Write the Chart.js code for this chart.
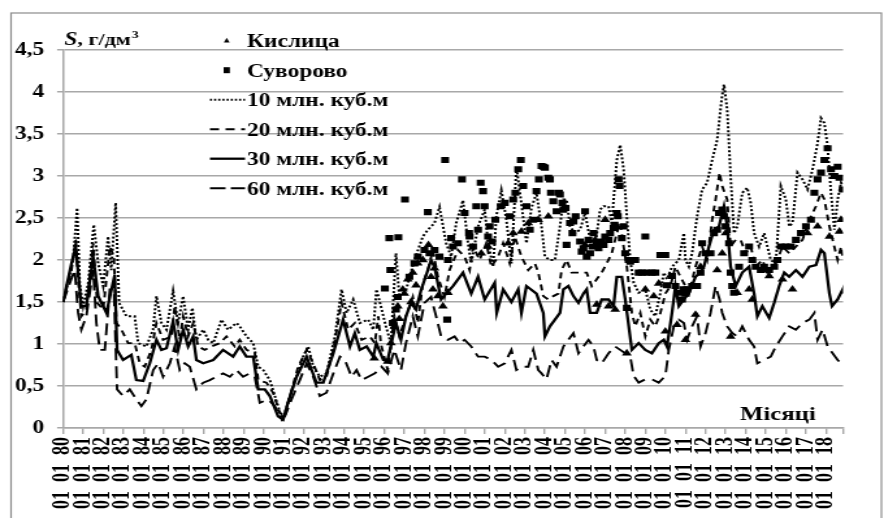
<!DOCTYPE html>
<html>
<head>
<meta charset="utf-8">
<script src="https://cdn.jsdelivr.net/npm/chart.js@4.4.0/dist/chart.umd.min.js"></script>
<style>
  html, body { margin: 0; padding: 0; background: #fff; overflow: hidden; }
  canvas { display: block; }
</style>
</head>
<body>
<!-- the original picture is stretched sideways, so the canvas is drawn narrow and widened by CSS -->
<canvas id="grafica" width="680" height="518" style="width:884px;height:518px"></canvas>
<script>
// series names (legend order)
const seriesNames = ['Кислица', 'Суворово', '10 млн. куб.м', '20 млн. куб.м', '30 млн. куб.м', '60 млн. куб.м'];

// x axis: one tick per year
const years = [1980,1981,1982,1983,1984,1985,1986,1987,1988,1989,1990,1991,1992,1993,1994,1995,1996,1997,1998,1999,
  2000,2001,2002,2003,2004,2005,2006,2007,2008,2009,2010,2011,2012,2013,2014,2015,2016,2017,2018];
const tickLabels = ['01 01 80','01 01 81','01 01 82','01 01 83','01 01 84','01 01 85','01 01 86','01 01 87','01 01 88','01 01 89',
  '01 01 90','01 01 91','01 01 92','01 01 93','01 01 94','01 01 95','01 01 96','01 01 97','01 01 98','01 01 99',
  '01 01 00','01 01 01','01 01 02','01 01 03','01 01 04','01 01 05','01 01 06','01 01 07','01 01 08','01 01 09',
  '01 01 10','01 01 11','01 01 12','01 01 13','01 01 14','01 01 15','01 01 16','01 01 17','01 01 18'];
const xEnd = 2018.85;

// measured points: Кислица (triangles)
const kyslytsia = [[1995.5,0.83],[1996.17,0.79],[1996.33,1.01],[1996.5,1.21],[1996.67,1.45],[1996.75,1.3],[1996.92,1.65],
  [1997.0,1.6],[1997.17,1.77],[1997.33,1.5],[1997.42,1.85],[1997.58,1.7],[1997.67,1.96],[1997.92,2.0],[1998.2,2.18],
  [1998.33,1.8],[1998.42,1.65],[1998.5,1.9],[1998.67,1.57],[1998.92,1.45],[1999.17,1.61],[2000.83,2.08],[2001.17,2.16],
  [2002.17,2.2],[2002.42,2.32],[2002.83,2.34],[2003.17,2.44],[2003.67,2.48],[2004.17,2.52],[2006.0,2.18],[2006.5,2.24],
  [2006.58,1.47],[2007.0,2.48],[2007.17,1.45],[2007.5,1.41],[2007.58,2.4],[2008.08,0.89],[2009.0,1.65],[2009.42,1.57],
  [2009.67,1.72],[2010.0,1.15],[2010.58,1.23],[2011.0,1.05],[2011.5,1.35],[2011.75,1.92],[2012.58,1.88],[2012.83,2.08],
  [2013.0,2.32],[2013.25,1.09],[2013.58,1.61],[2014.17,1.65],[2014.33,1.53],[2014.92,1.88],[2015.17,1.81],[2015.83,1.77],
  [2016.33,1.65],[2017.08,2.32],[2017.58,2.4],[2018.17,2.28],[2018.67,2.34],[2018.75,2.48]];

// measured points: Суворово (squares)
const suvorovo = [[1996.03,1.66],[1996.25,2.26],[1996.3,1.88],[1996.42,1.25],[1996.58,1.41],[1996.67,1.56],[1996.7,2.27],
  [1997.03,2.72],[1997.25,1.8],[1997.5,1.96],[1997.67,2.04],[1998.0,2.12],[1998.17,2.57],[1998.25,2.08],[1998.5,2.12],
  [1998.75,2.04],[1999.03,3.19],[1999.13,1.29],[1999.17,2.0],[1999.33,2.26],[1999.42,2.16],[1999.67,2.2],[1999.87,2.96],
  [2000.0,2.56],[2000.22,2.32],[2000.25,2.28],[2000.42,2.16],[2000.58,2.64],[2000.67,2.36],[2000.8,2.92],[2000.92,2.82],
  [2001.0,2.64],[2001.17,2.28],[2001.25,2.4],[2001.37,2.22],[2001.53,2.48],[2001.8,2.64],[2002.0,2.68],[2002.25,2.52],
  [2002.42,2.72],[2002.53,2.8],[2002.67,3.08],[2002.8,3.19],[2002.92,2.88],[2003.08,2.64],[2003.25,2.36],[2003.42,2.48],
  [2003.58,2.82],[2003.7,2.96],[2003.83,3.12],[2003.92,3.11],[2004.0,3.1],[2004.17,2.98],[2004.25,2.96],[2004.3,2.8],
  [2004.42,2.7],[2004.58,2.58],[2004.7,2.8],[2004.75,2.78],[2004.87,2.68],[2004.92,2.6],[2005.03,2.62],[2005.08,2.18],
  [2005.25,2.44],[2005.37,2.32],[2005.42,2.46],[2005.53,2.52],[2005.75,2.22],[2005.83,2.1],[2005.92,2.14],[2006.0,2.58],
  [2006.08,2.04],[2006.17,2.24],[2006.25,2.08],[2006.37,2.16],[2006.42,2.32],[2006.58,2.2],[2006.67,2.14],[2006.8,2.22],
  [2006.92,2.18],[2007.0,2.28],[2007.17,2.24],[2007.25,2.32],[2007.42,2.38],[2007.47,2.42],[2007.58,2.56],[2007.63,2.52],
  [2007.67,2.96],[2007.72,2.88],[2007.83,2.26],[2007.92,2.4],[2008.0,2.08],[2008.08,1.43],[2008.17,2.0],[2008.25,1.98],
  [2008.5,2.0],[2008.67,1.85],[2008.83,1.85],[2009.0,2.28],[2009.08,1.85],[2009.33,1.85],[2009.5,1.85],[2009.75,2.06],
  [2010.0,2.06],[2010.08,1.7],[2010.33,1.81],[2010.5,1.69],[2010.67,1.61],[2010.83,1.53],[2010.9,1.65],[2011.0,1.6],
  [2011.08,1.65],[2011.33,1.69],[2011.58,1.69],[2011.75,1.85],[2011.83,2.2],[2012.0,2.08],[2012.25,2.08],[2012.42,2.32],
  [2012.58,2.36],[2012.67,2.56],[2012.83,2.6],[2012.92,2.52],[2013.0,2.4],[2013.17,2.2],[2013.25,1.85],[2013.33,1.69],
  [2013.42,1.61],[2013.67,1.92],[2013.92,2.08],[2014.17,2.16],[2014.33,2.0],[2014.5,1.92],[2014.75,1.88],[2014.92,1.92],
  [2015.17,1.88],[2015.42,1.92],[2015.58,2.0],[2015.75,2.16],[2016.0,2.16],[2016.25,2.16],[2016.5,2.24],[2016.75,2.32],
  [2017.0,2.4],[2017.25,2.48],[2017.42,2.8],[2017.58,2.96],[2017.75,3.04],[2017.92,3.19],[2018.08,3.33],[2018.25,3.08],
  [2018.42,3.0],[2018.58,3.11],[2018.67,2.98],[2018.83,2.84]];

// modelled series, [year, g/dm3]
const line10 = [[1980.0,1.5],[1980.5,2.0],[1980.7,2.62],[1980.83,1.72],[1981.0,1.45],[1981.25,1.72],[1981.53,2.42],[1981.75,1.96],
  [1982.0,1.69],[1982.24,2.28],[1982.4,1.88],[1982.62,2.68],[1982.79,1.49],[1983.16,1.33],[1983.57,1.33],[1983.74,1.01],
  [1984.15,0.97],[1984.48,1.17],[1984.65,1.57],[1984.9,1.25],[1985.15,1.17],[1985.48,1.63],[1985.73,1.25],[1985.98,1.57],
  [1986.23,1.17],[1986.44,1.43],[1986.64,1.05],[1986.98,1.17],[1987.23,1.05],[1987.48,1.01],[1987.89,1.29],[1988.22,1.17],
  [1988.64,1.25],[1988.8,1.21],[1989.14,1.09],[1989.47,1.01],[1989.72,0.73],[1989.97,0.69],[1990.3,0.57],[1990.71,0.26],
  [1990.93,0.08],[1991.2,0.3],[1991.46,0.5],[1991.96,0.85],[1992.21,0.97],[1992.46,0.73],[1992.79,0.61],[1993.12,0.65],
  [1993.54,1.09],[1993.87,1.65],[1994.12,1.37],[1994.45,1.53],[1994.78,1.25],[1995.2,1.29],[1995.45,1.17],[1995.61,1.65],
  [1995.83,1.45],[1996.08,1.21],[1996.33,1.01],[1996.58,2.08],[1996.75,1.56],[1997.08,1.64],[1997.5,2.0],[1997.92,2.28],
  [1998.17,2.36],[1998.5,2.44],[1998.75,2.63],[1999.08,2.2],[1999.33,2.04],[1999.58,2.44],[1999.92,2.71],[2000.17,2.2],
  [2000.33,1.96],[2000.67,2.4],[2001.0,2.6],[2001.17,2.2],[2001.42,1.92],[2001.58,2.52],[2001.83,2.83],[2002.08,2.48],
  [2002.33,1.96],[2002.58,3.11],[2002.83,2.67],[2003.08,2.2],[2003.33,2.62],[2003.58,2.8],[2003.83,2.4],[2004.0,2.04],
  [2004.25,2.0],[2004.5,2.0],[2004.75,2.4],[2004.92,2.72],[2005.08,2.72],[2005.25,2.4],[2005.5,2.32],[2005.75,2.36],
  [2006.0,2.56],[2006.25,2.24],[2006.5,2.16],[2006.75,2.6],[2006.92,2.64],[2007.17,2.64],[2007.33,2.44],[2007.58,3.19],
  [2007.75,3.37],[2007.92,3.08],[2008.08,2.52],[2008.25,2.0],[2008.42,1.73],[2008.67,1.61],[2009.0,1.65],[2009.25,1.41],
  [2009.5,1.33],[2009.75,1.61],[2009.92,1.85],[2010.08,1.77],[2010.33,1.92],[2010.67,2.0],[2010.92,2.32],[2011.0,2.0],
  [2011.17,1.92],[2011.33,2.08],[2011.58,2.52],[2011.83,2.84],[2012.08,2.92],[2012.33,3.19],[2012.58,3.43],[2012.8,3.91],
  [2012.92,4.09],[2013.08,3.79],[2013.25,3.0],[2013.42,2.32],[2013.58,2.4],[2013.83,2.8],[2014.08,2.86],[2014.25,2.68],
  [2014.42,2.32],[2014.67,2.16],[2014.92,2.32],[2015.08,2.16],[2015.25,2.0],[2015.5,1.96],[2015.75,2.88],[2016.0,2.72],
  [2016.17,2.4],[2016.33,2.44],[2016.58,3.04],[2016.83,2.96],[2017.08,2.84],[2017.33,3.08],[2017.58,3.39],[2017.75,3.69],
  [2017.92,3.63],[2018.08,3.35],[2018.25,2.8],[2018.42,2.36],[2018.58,2.72],[2018.75,2.92],[2018.85,2.88]];

const line20 = [[1980.0,1.5],[1980.42,1.88],[1980.63,2.24],[1980.75,1.76],[1980.91,1.33],[1981.16,1.41],[1981.5,2.2],[1981.7,1.49],
  [1982.0,1.41],[1982.33,2.16],[1982.53,2.04],[1982.66,1.25],[1982.91,1.17],[1983.24,1.01],[1983.57,1.01],[1983.82,0.77],
  [1984.07,0.73],[1984.4,0.93],[1984.65,1.25],[1984.98,1.05],[1985.4,1.09],[1985.56,1.45],[1985.81,1.05],[1985.98,1.33],
  [1986.23,1.09],[1986.48,1.25],[1986.73,0.97],[1987.06,0.93],[1987.39,0.97],[1987.81,1.01],[1988.14,1.09],[1988.55,0.97],
  [1988.8,1.05],[1989.14,0.93],[1989.55,0.89],[1989.72,0.57],[1990.13,0.54],[1990.46,0.42],[1990.8,0.18],[1991.05,0.14],
  [1991.3,0.38],[1991.71,0.73],[1992.13,0.93],[1992.46,0.77],[1992.79,0.57],[1993.12,0.61],[1993.46,0.93],[1993.87,1.49],
  [1994.2,1.17],[1994.53,1.25],[1994.87,1.05],[1995.28,1.09],[1995.53,1.01],[1995.7,1.33],[1995.83,1.0],[1996.17,0.69],
  [1996.5,1.33],[1996.75,1.09],[1997.08,1.33],[1997.42,1.56],[1997.67,1.25],[1997.92,1.72],[1998.17,1.88],[1998.42,2.12],
  [1998.67,1.8],[1999.0,1.56],[1999.25,1.88],[1999.67,2.12],[2000.0,2.04],[2000.25,1.88],[2000.42,2.16],[2000.75,2.0],
  [2001.08,2.2],[2001.33,1.92],[2001.67,2.04],[2001.92,2.2],[2002.25,1.96],[2002.5,2.28],[2002.83,2.04],[2003.17,1.88],
  [2003.5,1.96],[2003.67,1.85],[2003.92,1.57],[2004.17,1.53],[2004.42,1.57],[2004.67,1.6],[2004.83,1.88],[2005.08,2.0],
  [2005.33,1.85],[2005.58,1.85],[2005.83,1.85],[2006.08,1.85],[2006.33,1.69],[2006.58,1.77],[2006.83,1.85],[2007.08,1.96],
  [2007.33,2.08],[2007.58,2.32],[2007.75,2.44],[2007.92,2.16],[2008.08,1.92],[2008.33,1.37],[2008.5,1.21],[2008.75,1.37],
  [2009.0,1.09],[2009.25,1.29],[2009.5,1.21],[2009.75,1.37],[2010.0,1.6],[2010.25,1.69],[2010.5,1.92],[2010.75,1.8],
  [2011.0,1.69],[2011.17,1.6],[2011.5,1.92],[2011.83,2.16],[2012.08,2.0],[2012.33,2.48],[2012.5,2.72],[2012.7,3.04],
  [2012.83,2.88],[2013.08,2.72],[2013.25,2.16],[2013.5,2.24],[2013.75,2.24],[2014.0,2.08],[2014.25,2.16],[2014.5,1.92],
  [2014.83,2.0],[2015.08,1.85],[2015.33,1.92],[2015.58,2.0],[2015.83,2.16],[2016.17,2.08],[2016.5,2.16],[2016.83,2.24],
  [2017.17,2.48],[2017.5,2.64],[2017.75,2.8],[2017.92,2.72],[2018.17,2.4],[2018.33,2.24],[2018.58,2.0],[2018.75,2.16],[2018.85,2.0]];

const line30 = [[1980.0,1.5],[1980.42,1.96],[1980.63,2.16],[1980.91,1.45],[1981.16,1.45],[1981.5,2.04],[1981.75,1.57],[1982.16,1.37],
  [1982.57,1.82],[1982.69,0.93],[1982.99,0.81],[1983.4,0.87],[1983.65,0.57],[1983.99,0.56],[1984.32,0.77],[1984.65,1.05],
  [1984.9,0.93],[1985.15,0.95],[1985.48,1.27],[1985.73,0.93],[1985.98,1.17],[1986.23,0.97],[1986.48,1.09],[1986.64,0.81],
  [1986.98,0.77],[1987.48,0.81],[1987.97,0.93],[1988.47,0.85],[1988.8,0.97],[1989.13,0.85],[1989.47,0.85],[1989.72,0.46],
  [1990.05,0.46],[1990.3,0.38],[1990.71,0.14],[1990.96,0.1],[1991.2,0.3],[1991.63,0.61],[1992.13,0.85],[1992.38,0.69],
  [1992.62,0.54],[1992.96,0.54],[1993.46,0.89],[1993.95,1.29],[1994.29,0.97],[1994.53,1.13],[1994.78,0.93],[1995.12,0.97],
  [1995.45,0.85],[1995.6,1.01],[1995.95,0.81],[1996.17,0.81],[1996.58,1.25],[1996.83,1.05],[1997.08,1.33],[1997.33,1.49],
  [1997.58,1.41],[1997.83,1.64],[1998.17,1.88],[1998.33,2.0],[1998.5,1.92],[1998.83,1.53],[1999.08,1.6],[1999.42,1.69],
  [1999.92,1.85],[2000.33,1.6],[2000.67,1.8],[2001.0,1.53],[2001.5,1.73],[2001.6,1.37],[2001.92,1.65],[2002.33,1.5],
  [2002.67,1.65],[2002.83,1.37],[2003.08,1.69],[2003.58,1.6],[2003.92,1.37],[2004.0,1.09],[2004.25,1.21],[2004.5,1.29],
  [2004.75,1.37],[2004.92,1.65],[2005.17,1.69],[2005.42,1.57],[2005.67,1.49],[2005.92,1.6],[2006.08,1.65],[2006.25,1.37],
  [2006.58,1.37],[2006.83,1.53],[2007.17,1.53],[2007.42,1.45],[2007.58,1.8],[2007.83,1.8],[2008.0,1.53],[2008.33,0.93],
  [2008.67,1.01],[2009.0,0.93],[2009.33,0.89],[2009.67,1.01],[2009.92,1.05],[2010.08,0.97],[2010.33,1.37],[2010.5,1.69],
  [2010.67,1.45],[2010.92,1.53],[2011.17,1.6],[2011.5,1.8],[2011.75,1.85],[2011.92,1.92],[2012.17,2.16],[2012.42,2.36],
  [2012.67,2.4],[2012.92,2.64],[2013.08,2.4],[2013.25,1.92],[2013.5,1.69],[2013.83,1.85],[2014.17,1.92],[2014.42,1.6],
  [2014.58,1.33],[2014.83,1.45],[2015.17,1.31],[2015.42,1.49],[2015.67,1.69],[2015.92,1.85],[2016.17,1.8],[2016.5,1.88],
  [2016.83,1.8],[2017.17,1.92],[2017.5,1.94],[2017.75,2.12],[2017.92,2.08],[2018.17,1.6],[2018.3,1.45],[2018.58,1.53],
  [2018.83,1.65],[2018.85,1.6]];

const line60 = [[1980.0,1.5],[1980.33,1.72],[1980.58,1.88],[1980.75,1.37],[1980.91,1.17],[1981.16,1.33],[1981.5,1.88],[1981.66,1.25],
  [1981.83,0.93],[1982.08,0.93],[1982.33,1.65],[1982.53,1.65],[1982.69,0.46],[1982.99,0.38],[1983.32,0.46],[1983.65,0.34],
  [1983.9,0.26],[1984.15,0.34],[1984.49,0.69],[1984.74,0.77],[1984.98,0.61],[1985.32,0.77],[1985.56,0.97],[1985.81,0.69],
  [1986.06,0.77],[1986.31,0.73],[1986.64,0.46],[1986.98,0.54],[1987.31,0.57],[1987.64,0.61],[1987.97,0.65],[1988.31,0.61],
  [1988.64,0.69],[1988.97,0.61],[1989.3,0.65],[1989.55,0.61],[1989.8,0.3],[1990.22,0.34],[1990.55,0.26],[1990.8,0.14],
  [1991.05,0.14],[1991.38,0.34],[1991.79,0.57],[1992.13,0.77],[1992.46,0.61],[1992.79,0.38],[1993.12,0.42],[1993.46,0.65],
  [1993.79,0.85],[1994.04,0.81],[1994.37,0.61],[1994.62,0.69],[1994.87,0.57],[1995.2,0.61],[1995.53,0.65],[1995.86,0.73],
  [1996.17,0.65],[1996.5,0.93],[1996.83,0.69],[1997.08,1.01],[1997.42,1.33],[1997.67,1.09],[1998.0,1.49],[1998.33,1.56],
  [1998.58,1.33],[1998.83,1.09],[1999.17,1.05],[1999.5,1.09],[1999.75,1.01],[2000.0,1.05],[2000.33,0.97],[2000.67,0.85],
  [2001.0,0.85],[2001.33,0.81],[2001.67,0.73],[2002.0,0.77],[2002.33,0.93],[2002.58,0.69],[2002.83,0.73],[2003.17,0.73],
  [2003.42,0.93],[2003.67,0.69],[2003.83,0.65],[2004.08,0.58],[2004.33,0.81],[2004.58,0.73],[2004.92,0.97],[2005.17,1.05],
  [2005.42,1.13],[2005.67,0.89],[2005.92,0.97],[2006.17,1.05],[2006.42,0.97],[2006.58,0.81],[2006.83,0.77],[2007.17,0.89],
  [2007.5,0.97],[2007.75,0.93],[2008.0,0.89],[2008.25,0.85],[2008.42,0.62],[2008.67,0.54],[2009.0,0.58],[2009.33,0.58],
  [2009.67,0.54],[2010.0,0.62],[2010.17,0.93],[2010.42,1.21],[2010.67,1.29],[2010.92,1.25],[2011.08,1.05],[2011.33,1.21],
  [2011.58,1.33],[2011.75,0.97],[2012.0,1.13],[2012.25,1.37],[2012.5,1.69],[2012.7,1.53],[2012.83,1.37],[2013.08,1.21],
  [2013.33,1.13],[2013.58,1.09],[2013.83,1.21],[2014.17,1.05],[2014.42,0.97],[2014.58,0.77],[2014.92,0.81],[2015.25,0.85],
  [2015.5,0.97],[2015.83,1.09],[2016.17,1.21],[2016.5,1.17],[2016.83,1.25],[2017.17,1.29],[2017.42,1.37],[2017.58,1.05],
  [2017.83,1.17],[2018.08,0.97],[2018.33,0.89],[2018.58,0.81],[2018.75,0.77],[2018.85,0.81]];

const SERIF = '"Liberation Serif", "Times New Roman", serif';
const GRID = '#a8a8a8';
const toXY = arr => arr.map(p => ({ x: p[0], y: p[1] }));

// axis title, "Місяці" label, frame and the legend inside the plot
const decor = {
    id: 'decor',
    afterDraw(chart) {
        const c = chart.ctx;
        c.save();
        // frame round the whole picture
        c.strokeStyle = '#8c8c8c';
        c.lineWidth = 1.2;
        c.strokeRect(8.5, 13, 669.5, 540);

        c.fillStyle = '#000';
        c.textBaseline = 'alphabetic';
        c.textAlign = 'left';
        // S, г/дм3
        let x = 49.5;
        c.font = 'italic bold 18px ' + SERIF;
        c.fillText('S', x, 45);
        x += c.measureText('S').width;
        c.font = 'bold 17px ' + SERIF;
        c.fillText(', г/дм', x, 45);
        x += c.measureText(', г/дм').width;
        c.font = 'bold 11px ' + SERIF;
        c.fillText('3', x + 0.5, 38);

        c.font = 'bold 19px ' + SERIF;
        c.textAlign = 'right';
        c.fillText('Місяці', 627.5, 419.5);

        // legend
        c.textAlign = 'left';
        chart.data.datasets.forEach((ds, i) => {
            const cy = 40.7 + i * 29.5;
            c.fillStyle = '#000';
            c.strokeStyle = '#000';
            if (ds.showLine === false) {
                const mx = 174.4;
                c.beginPath();
                if (ds.pointStyle === 'triangle') {
                    c.moveTo(mx, cy - 3);
                    c.lineTo(mx + 2.2, cy + 1.8);
                    c.lineTo(mx - 2.2, cy + 1.8);
                    c.closePath();
                } else {
                    c.rect(mx - 2.4, cy - 3, 4.8, 6);
                }
                c.fill();
            } else {
                c.lineWidth = ds.borderWidth;
                c.setLineDash(ds.legendDash);
                c.beginPath();
                c.moveTo(161.5, cy);
                c.lineTo(188.5, cy);
                c.stroke();
                c.setLineDash([]);
            }
            c.font = 'bold 18px ' + SERIF;
            c.fillText(ds.label, 190, cy + 6.3);
        });
        c.restore();
    }
};

const ctx = document.getElementById('grafica').getContext('2d');

new Chart(ctx, {
    type: 'line',
    data: {
        datasets: [
            { label: seriesNames[0], data: toXY(kyslytsia), showLine: false, pointStyle: 'triangle',
              pointRadius: 4.4, backgroundColor: '#000', borderColor: '#000', borderWidth: 0 },
            { label: seriesNames[1], data: toXY(suvorovo), showLine: false, pointStyle: 'rect',
              pointRadius: 4.3, backgroundColor: '#000', borderColor: '#000', borderWidth: 0 },
            { label: seriesNames[2], data: toXY(line10), borderColor: '#000', borderWidth: 2,
              borderDash: [2, 2], legendDash: [1.6, 1.6], pointRadius: 0, tension: 0 },
            { label: seriesNames[3], data: toXY(line20), borderColor: '#000', borderWidth: 1.9,
              borderDash: [6, 4.5], legendDash: [7, 5], pointRadius: 0, tension: 0 },
            { label: seriesNames[4], data: toXY(line30), borderColor: '#000', borderWidth: 2.3,
              legendDash: [], pointRadius: 0, tension: 0 },
            { label: seriesNames[5], data: toXY(line60), borderColor: '#000', borderWidth: 1.9,
              borderDash: [12, 6], legendDash: [12, 4], pointRadius: 0, tension: 0 }
        ]
    },
    options: {
        responsive: false,
        animation: false,
        events: [],
        layout: { padding: { top: 50, right: 31.5, left: 0, bottom: 0 } },
        plugins: { legend: { display: false }, tooltip: { enabled: false } },
        scales: {
            x: {
                type: 'linear',
                min: 1980,
                max: xEnd,
                afterFit: (s) => { s.height = 90; },
                afterBuildTicks: (s) => { s.ticks = years.map(v => ({ value: v })).concat([{ value: xEnd }]); },
                grid: { drawOnChartArea: false, drawTicks: true, tickLength: 6, color: GRID, lineWidth: 1.4 },
                border: { color: GRID, width: 1.5 },
                ticks: {
                    autoSkip: false, minRotation: 90, maxRotation: 90, padding: 3, color: '#000',
                    font: { family: SERIF, size: 18, weight: 'bold' },
                    callback: (v) => {
                        const i = years.indexOf(v);
                        return i >= 0 ? tickLabels[i].replace(/ /g, '\u2002') : '';
                    }
                }
            },
            y: {
                min: 0,
                max: 4.5,
                afterFit: (s) => { s.width = 48.5; },
                grid: { color: GRID, lineWidth: 1.5, tickLength: 4.6 },
                border: { color: GRID, width: 1.5 },
                ticks: {
                    stepSize: 0.5, padding: 10, color: '#000',
                    font: { family: SERIF, size: 18, weight: 'bold' },
                    callback: (v) => String(v).replace('.', ',')
                }
            }
        }
    },
    plugins: [decor]
});
</script>
</body>
</html>
